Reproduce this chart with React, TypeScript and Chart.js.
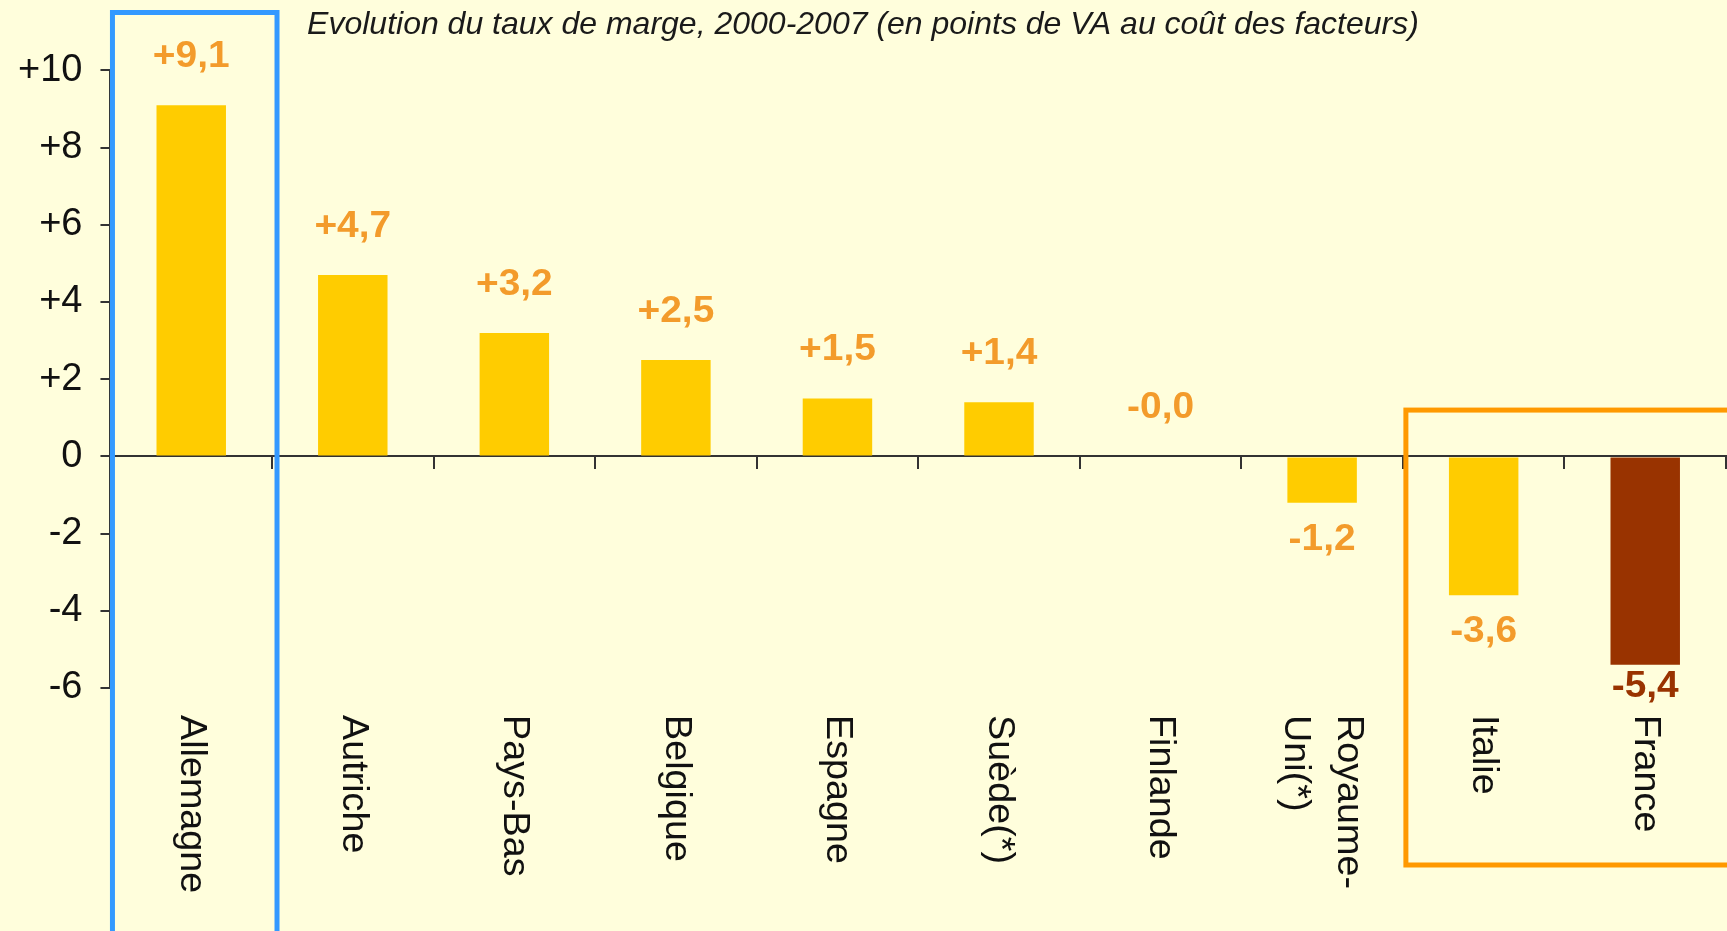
import React, { useEffect, useRef } from "react";
import { Chart, registerables } from "chart.js";

Chart.register(...registerables);

// ---- data ----
const countries = [
  "Allemagne",
  "Autriche",
  "Pays-Bas",
  "Belgique",
  "Espagne",
  "Suède(*)",
  "Finlande",
  "Royaume-\nUni(*)",
  "Italie",
  "France",
];
const values = [9.1, 4.7, 3.2, 2.5, 1.5, 1.4, -0.0, -1.2, -3.6, -5.4];
const yTicks = [-6, -4, -2, 0, 2, 4, 6, 8, 10];
const chartTitle =
  "Evolution du taux de marge, 2000-2007 (en points de VA au coût des facteurs)";
const highlightBlue = [0];
const highlightOrange = [8, 9];

// ---- styles ----
const YELLOW = "#FFCC00";
const BROWN = "#993300";
const ORANGE_TEXT = "#F39B2B";
const BG = "#FFFEDC";
const FONT = "'Liberation Sans', Arial, Helvetica, sans-serif";
const barColors = countries.map((c) => (c === "France" ? BROWN : YELLOW));
const labelColors = countries.map((c) => (c === "France" ? BROWN : ORANGE_TEXT));

const fmt = (v: number) => {
  const sign = v > 0 ? "+" : v < 0 || Object.is(v, -0) ? "-" : "";
  return sign + Math.abs(v).toFixed(1).replace(".", ",");
};

const overlayPlugin = {
  id: "overlay",
  afterDatasetsDraw(chart: any) {
    const ctx = chart.ctx as CanvasRenderingContext2D;
    const xs = chart.scales.x;
    const ys = chart.scales.y;
    const area = chart.chartArea;
    const meta = chart.getDatasetMeta(0);
    const half = (xs.getPixelForValue(1) - xs.getPixelForValue(0)) / 2;

    // value labels
    meta.data.forEach((bar: any, i: number) => {
      const v = values[i];
      const p = bar.getProps(["x", "y", "base"], true);
      let cy: number;
      if (v >= 0) cy = Math.min(p.y, p.base) - 48;
      else cy = Math.min(Math.max(p.y, p.base) + 37, area.bottom - 1);
      ctx.save();
      ctx.translate(p.x, cy);
      ctx.scale(1.08, 1);
      ctx.font = `bold 36px ${FONT}`;
      ctx.fillStyle = labelColors[i];
      ctx.textAlign = "center";
      ctx.textBaseline = "middle";
      ctx.fillText(fmt(v), 0, 0);
      ctx.restore();
    });

    // category labels, rotated clockwise
    countries.forEach((name, i) => {
      const cx = xs.getPixelForValue(i);
      const lines = name.split("\n");
      const spacing = 53;
      ctx.save();
      ctx.translate(cx, area.bottom + 27);
      ctx.rotate(Math.PI / 2);
      ctx.scale(1.02, 1);
      ctx.font = `37px ${FONT}`;
      ctx.fillStyle = "#111";
      ctx.textAlign = "left";
      ctx.textBaseline = "middle";
      lines.forEach((ln, j) => {
        const off = (j - (lines.length - 1) / 2) * spacing;
        ctx.fillText(ln, 0, off);
      });
      ctx.restore();
    });

    // highlight boxes
    ctx.save();
    ctx.lineWidth = 5;
    ctx.strokeStyle = "#3399FF";
    {
      const a = highlightBlue[0];
      const b = highlightBlue[highlightBlue.length - 1];
      const x1 = xs.getPixelForValue(a) - half + 2;
      const x2 = xs.getPixelForValue(b) + half + 5;
      ctx.strokeRect(x1, 12.5, x2 - x1, chart.height + 20);
    }
    ctx.strokeStyle = "#FF9900";
    {
      const a = highlightOrange[0];
      const x1 = xs.getPixelForValue(a) - half + 3;
      const x2 = chart.width + 20;
      const y1 = ys.getPixelForValue(1.2);
      const y2 = area.bottom + 177;
      ctx.strokeRect(x1, y1, x2 - x1, y2 - y1);
    }
    ctx.restore();
  },
};

export default function App() {
  const ref = useRef<HTMLCanvasElement | null>(null);

  useEffect(() => {
    if (!ref.current) return;
    const chart = new Chart(ref.current, {
      type: "bar",
      data: {
        labels: countries.map((c) => c.replace("\n", " ")),
        datasets: [
          {
            data: values,
            backgroundColor: barColors,
            borderWidth: 0,
            barPercentage: 0.43,
            categoryPercentage: 1,
          },
        ],
      },
      options: {
        responsive: false,
        devicePixelRatio: 1,
        animation: false,
        events: [],
        layout: { padding: { left: 0, right: 1, top: 0, bottom: 243 } },
        plugins: {
          legend: { display: false },
          tooltip: { enabled: false },
          title: {
            display: true,
            text: chartTitle,
            color: "#1a1a1a",
            font: { family: FONT, size: 32, style: "italic", weight: "normal" },
            padding: { top: 6, bottom: 26 },
          },
        },
        scales: {
          x: {
            position: { y: 0 } as any,
            grid: {
              display: true,
              drawOnChartArea: false,
              drawTicks: true,
              tickLength: 12,
              color: "#333",
              lineWidth: 2,
              offset: true,
            },
            border: { display: true, color: "#333", width: 2 },
            ticks: { display: false },
          },
          y: {
            min: yTicks[0],
            max: yTicks[yTicks.length - 1],
            afterBuildTicks: (s: any) => {
              s.ticks = yTicks.map((v) => ({ value: v }));
            },
            grid: {
              display: true,
              drawOnChartArea: false,
              drawTicks: true,
              tickLength: 10,
              color: "#333",
              lineWidth: 2,
            },
            border: { display: true, color: "#333", width: 2 },
            ticks: {
              color: "#111",
              padding: 18,
              font: { family: FONT, size: 38 },
              callback: (v: any) => (Number(v) > 0 ? "+" + v : String(v)),
            },
          },
        },
      },
      plugins: [overlayPlugin],
    });
    return () => chart.destroy();
  }, []);

  return (
    <div
      style={{
        position: "fixed",
        left: 0,
        top: 0,
        width: 1727,
        height: 931,
        overflow: "hidden",
        background: BG,
      }}
    >
      <canvas ref={ref} width={1727} height={931} style={{ display: "block" }} />
    </div>
  );
}
